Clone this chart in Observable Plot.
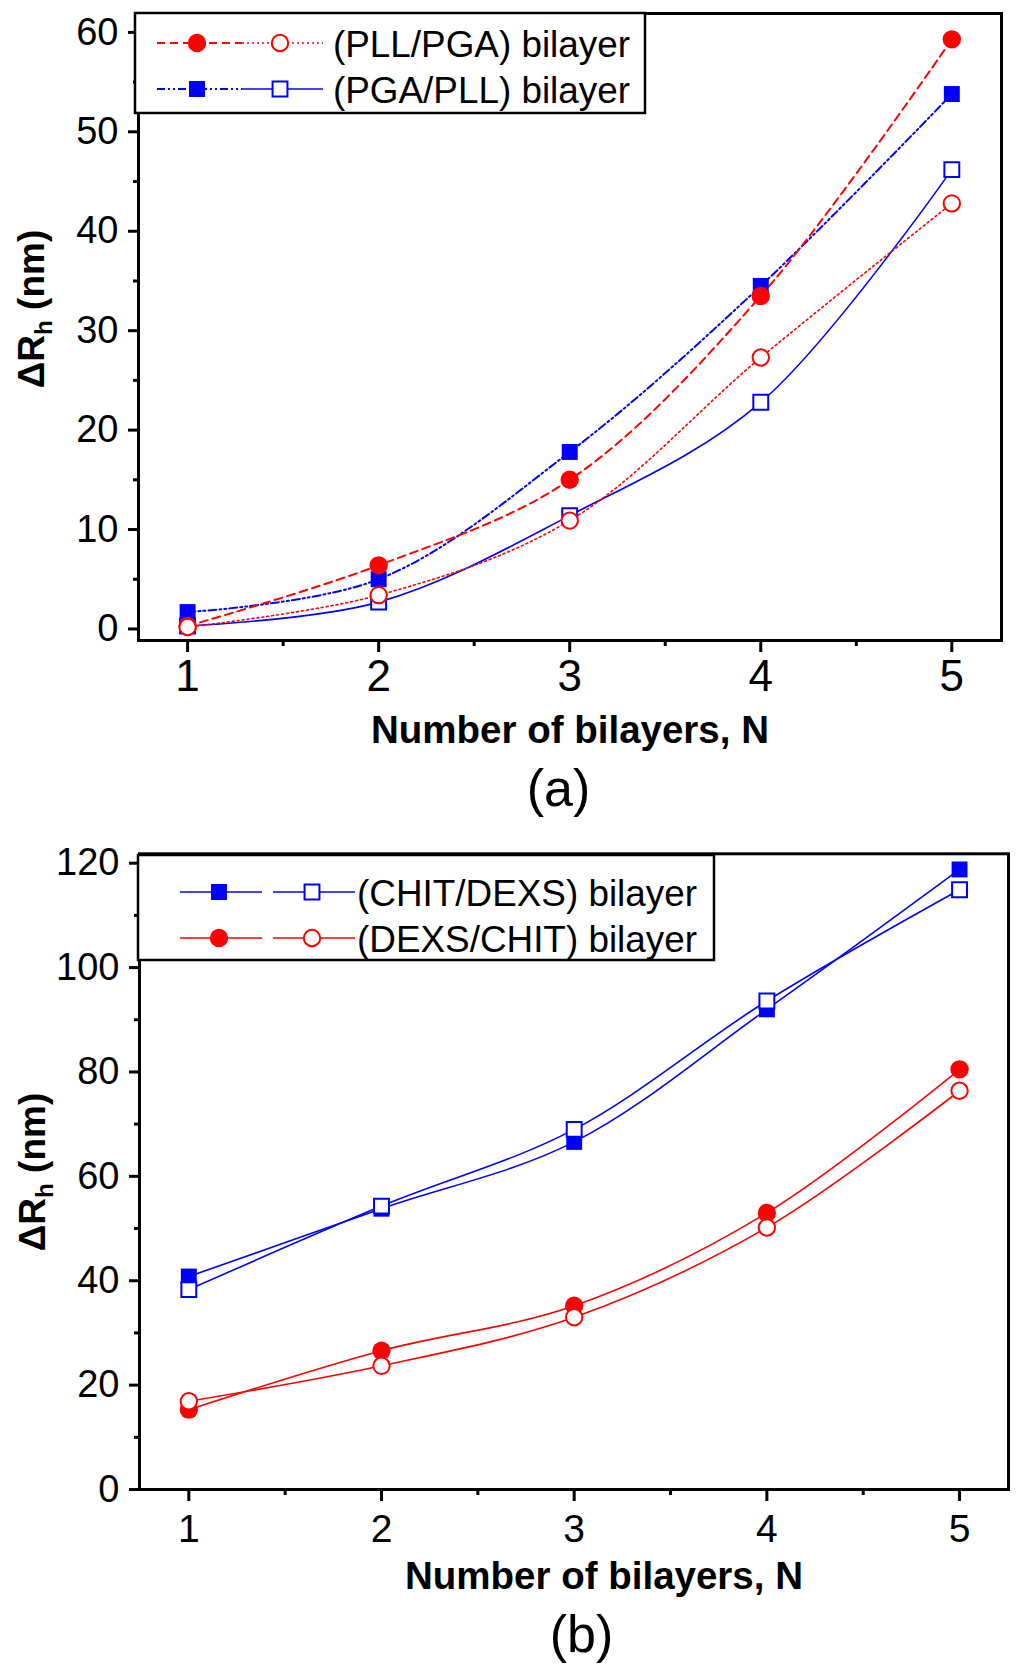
<!DOCTYPE html>
<html><head><meta charset="utf-8">
<script src="https://cdn.jsdelivr.net/npm/d3@7"></script>
<script src="https://cdn.jsdelivr.net/npm/@observablehq/plot@0.6"></script>
<style>
html,body{margin:0;padding:0;background:#fff;overflow:hidden;}
svg{display:block;}
</style></head><body>
<div id="chart"></div>
<script>
// ---------- data ----------
const N = [1, 2, 3, 4, 5];
// panel (a)
const pllPgaFilled = [0.3, 6.4, 15.0, 33.5, 59.3];
const pllPgaOpen   = [0.2, 3.4, 10.9, 27.3, 42.8];
const pgaPllFilled = [1.7, 5.0, 17.8, 34.5, 53.8];
const pgaPllOpen   = [0.3, 2.7, 11.4, 22.8, 46.2];
// panel (b)
const chitDexsFilled = [40.8, 53.8, 66.6, 92.0, 118.8];
const chitDexsOpen   = [38.3, 54.3, 69.0, 93.6, 114.9];
const dexsChitFilled = [15.3, 26.6, 35.2, 53.0, 80.5];
const dexsChitOpen   = [16.9, 23.7, 33.0, 50.2, 76.4];

const legendA = ["(PLL/PGA) bilayer", "(PGA/PLL) bilayer"];
const legendB = ["(CHIT/DEXS) bilayer", "(DEXS/CHIT) bilayer"];
const yTicksA = [0, 10, 20, 30, 40, 50, 60];
const yMinorA = [5, 15, 25, 35, 45, 55];
const yTicksB = [0, 20, 40, 60, 80, 100, 120];
const yMinorB = [10, 30, 50, 70, 90, 110];
const xTicks = [1, 2, 3, 4, 5];
const xMinor = [1.5, 2.5, 3.5, 4.5];
const xLabel = "Number of bilayers, N";
const panelLabels = ["(a)", "(b)"];

// ---------- styles ----------
const FONT = "'Liberation Sans', Arial, Helvetica, sans-serif";
const RED = "#ff0000", BLUE = "#0000ff";
const rows = vals => N.map((n, i) => ({n, v: vals[i]}));

const seriesA = {
  pllF: {vals: pllPgaFilled, color: RED,  dash: "8,5",          w: 2,   symbol: "circle", filled: true},
  pllO: {vals: pllPgaOpen,   color: RED,  dash: "2,3",          w: 1.6, symbol: "circle", filled: false},
  pgaF: {vals: pgaPllFilled, color: BLUE, dash: "8,3,2,3,2,3",  w: 2,   symbol: "square", filled: true},
  pgaO: {vals: pgaPllOpen,   color: BLUE, dash: null,           w: 1.6, symbol: "square", filled: false}
};
const seriesB = {
  chF: {vals: chitDexsFilled, color: BLUE, dash: null, w: 1.6, symbol: "square", filled: true},
  chO: {vals: chitDexsOpen,   color: BLUE, dash: null, w: 1.6, symbol: "square", filled: false},
  dxF: {vals: dexsChitFilled, color: RED,  dash: null, w: 1.6, symbol: "circle", filled: true},
  dxO: {vals: dexsChitOpen,   color: RED,  dash: null, w: 1.6, symbol: "circle", filled: false}
};
function markerR(s) {
  if (s.symbol === "circle") return s.filled ? 9.2 : 8.2;
  return s.filled ? 9.0 : 8.4;
}
function lineMark(s) {
  return Plot.line(rows(s.vals), {x: "n", y: "v", stroke: s.color, strokeWidth: s.w,
    strokeDasharray: s.dash || undefined, curve: "catmull-rom"});
}
function dotMark(s) {
  return Plot.dot(rows(s.vals), {x: "n", y: "v", symbol: s.symbol, r: markerR(s),
    fill: s.filled ? s.color : "white", stroke: s.filled ? "none" : s.color,
    strokeWidth: s.filled ? 0 : 2});
}
function axes(yT, yM, xFont, xPad) {
  return [
    Plot.frame({stroke: "black", strokeWidth: 3}),
    Plot.axisY({ticks: yT, tickSize: 10, tickPadding: 10, fontSize: 38, strokeWidth: 3, label: null, tickFormat: d => String(d)}),
    Plot.axisY({ticks: yM, tickSize: 5, strokeWidth: 3, label: null, tickFormat: () => ""}),
    Plot.axisX({ticks: xTicks, tickSize: 12, tickPadding: xPad, fontSize: xFont, strokeWidth: 3, label: null, tickFormat: d => String(d)}),
    Plot.axisX({ticks: xMinor, tickSize: 6, strokeWidth: 3, label: null, tickFormat: () => ""})
  ];
}

// ---------- panel (a) ----------
const plotA = Plot.plot({
  width: 1024, height: 830,
  marginLeft: 138, marginRight: 23, marginTop: 13, marginBottom: 190,
  style: {fontFamily: FONT, background: "white", overflow: "visible"},
  x: {domain: [0.743, 5.26], label: null},
  y: {domain: [-1.16, 61.9], label: null},
  marks: [
    ...axes(yTicksA, yMinorA, 44, 7),
    lineMark(seriesA.pgaO), lineMark(seriesA.pllO), lineMark(seriesA.pgaF), lineMark(seriesA.pllF),
    dotMark(seriesA.pgaF), dotMark(seriesA.pgaO), dotMark(seriesA.pllF), dotMark(seriesA.pllO),
    Plot.text([xLabel], {frameAnchor: "bottom", lineAnchor: "bottom", dy: 102, fontSize: 38.5, fontWeight: "bold"}),
    Plot.text([panelLabels[0]], {frameAnchor: "bottom", lineAnchor: "bottom", dy: 165, dx: -11.5, fontSize: 52})
  ]
});

// ---------- panel (b) ----------
const plotB = Plot.plot({
  width: 1024, height: 841,
  marginLeft: 139, marginRight: 16, marginTop: 23.3, marginBottom: 182,
  style: {fontFamily: FONT, background: "white", overflow: "visible"},
  x: {domain: [0.744, 5.254], label: null},
  y: {domain: [0, 121.8], label: null},
  marks: [
    ...axes(yTicksB, yMinorB, 39, 13),
    lineMark(seriesB.chF), lineMark(seriesB.chO), lineMark(seriesB.dxF), lineMark(seriesB.dxO),
    dotMark(seriesB.chF), dotMark(seriesB.chO), dotMark(seriesB.dxF), dotMark(seriesB.dxO),
    Plot.text([xLabel], {frameAnchor: "bottom", lineAnchor: "bottom", dy: 99.5, dx: 30, fontSize: 38.5, fontWeight: "bold"}),
    Plot.text([panelLabels[1]], {frameAnchor: "bottom", lineAnchor: "bottom", dy: 162, dx: 7.5, fontSize: 52})
  ]
});

const root = document.getElementById("chart");
root.appendChild(plotA);
root.appendChild(plotB);

// ---------- y titles ----------
function yTitle(svg, x, y) {
  const t = d3.select(svg).append("text")
    .attr("transform", `translate(${x},${y}) rotate(-90)`)
    .attr("text-anchor", "middle").attr("font-weight", "bold")
    .attr("font-size", 37).attr("font-family", FONT).attr("fill", "black");
  t.append("tspan").text("\u0394R");
  t.append("tspan").attr("font-size", 24).attr("dy", 8).text("h");
  t.append("tspan").attr("dy", -8).text(" (nm)");
}
yTitle(plotA, 44, 309);
yTitle(plotB, 45, 342);

// ---------- legends ----------
function symPath(s) {
  const r = markerR(s);
  return d3.symbol(s.symbol === "circle" ? d3.symbolCircle : d3.symbolSquare, r * r * Math.PI)();
}
function drawSample(g, s, x0, x1, xm, y) {
  g.append("line").attr("x1", x0).attr("x2", x1).attr("y1", y).attr("y2", y)
    .attr("stroke", s.color).attr("stroke-width", s.w)
    .attr("stroke-dasharray", s.dash || null);
  g.append("path").attr("d", symPath(s)).attr("transform", `translate(${xm},${y})`)
    .attr("fill", s.filled ? s.color : "white")
    .attr("stroke", s.filled ? "none" : s.color).attr("stroke-width", s.filled ? 0 : 2);
}
function legend(svg, box, layout, entries) {
  const g = d3.select(svg).append("g").attr("text-anchor", "start");
  g.append("rect").attr("x", box[0]).attr("y", box[1]).attr("width", box[2]).attr("height", box[3])
    .attr("fill", "white").attr("stroke", "black").attr("stroke-width", 2.5);
  entries.forEach((e, i) => {
    const y = layout.rows[i];
    drawSample(g, e.a, layout.s1[0], layout.s1[1], layout.s1[2], y);
    drawSample(g, e.b, layout.s2[0], layout.s2[1], layout.s2[2], y);
    g.append("text").attr("x", layout.tx).attr("y", y + 13.5)
      .attr("text-anchor", "start")
      .attr("font-family", FONT).attr("font-size", 36).attr("fill", "black")
      .attr("textLength", layout.tl).attr("lengthAdjust", "spacingAndGlyphs")
      .text(e.label);
  });
}
legend(plotA, [135, 13, 510, 100],
  {rows: [43, 89], s1: [157, 242, 197], s2: [242, 323, 280], tx: 333, tl: 297},
  [{a: seriesA.pllF, b: seriesA.pllO, label: legendA[0]},
   {a: seriesA.pgaF, b: seriesA.pgaO, label: legendA[1]}]);
legend(plotB, [138, 25, 576, 105],
  {rows: [62, 108], s1: [180, 262, 219], s2: [273, 355, 312], tx: 357, tl: 340},
  [{a: seriesB.chF, b: seriesB.chO, label: legendB[0]},
   {a: seriesB.dxF, b: seriesB.dxO, label: legendB[1]}]);
</script>
</body></html>
